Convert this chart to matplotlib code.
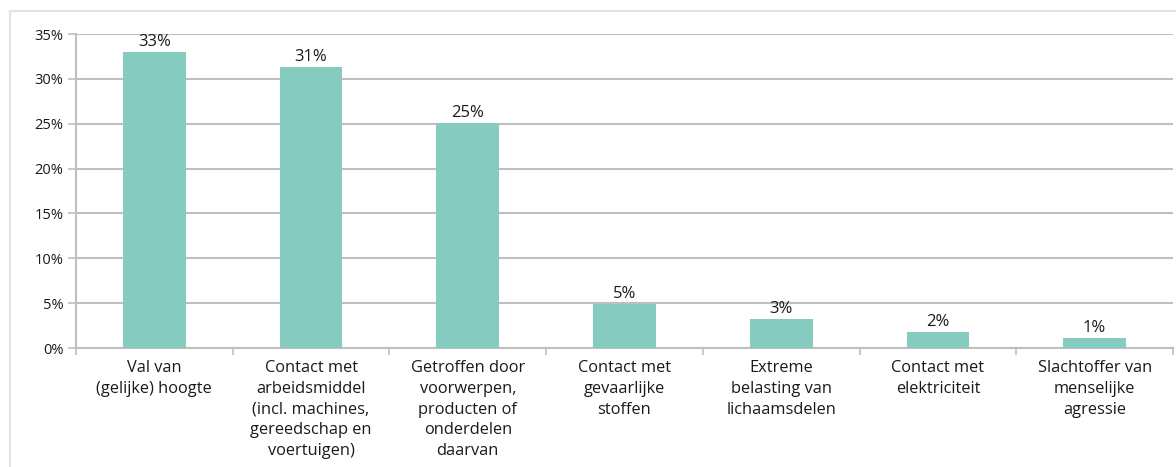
import matplotlib.pyplot as plt
import numpy as np
from matplotlib.lines import Line2D
from matplotlib.ticker import FuncFormatter

categories = [
    "Val van\n(gelijke) hoogte",
    "Contact met\narbeidsmiddel\n(incl. machines,\ngereedschap en\nvoertuigen)",
    "Getroffen door\nvoorwerpen,\nproducten of\nonderdelen\ndaarvan",
    "Contact met\ngevaarlijke\nstoffen",
    "Extreme\nbelasting van\nlichaamsdelen",
    "Contact met\nelektriciteit",
    "Slachtoffer van\nmenselijke\nagressie",
]
values = [33.0, 31.3, 25.1, 4.9, 3.2, 1.8, 1.1]
value_labels = ["33%", "31%", "25%", "5%", "3%", "2%", "1%"]
yticks = [0, 5, 10, 15, 20, 25, 30, 35]

bar_color = "#86CBC0"
grid_color = "#BFBFBF"
text = "#1A1A1A"
frame = "#E3E3E3"

plt.rcParams.update({
    "font.family": ["Open Sans", "DejaVu Sans"],
    "font.size": 10,
})

fig = plt.figure(figsize=(11.76, 4.67), dpi=100)
ax = fig.add_axes([76 / 1176, 1 - 348 / 467, (1173 - 76) / 1176, (348 - 34) / 467])

x = np.arange(len(categories))
ax.bar(x, values, width=0.4, color=bar_color, zorder=3)

for xi, v, lab in zip(x, values, value_labels):
    ax.annotate(lab, (xi, v), xytext=(0, 1.5), textcoords="offset points",
                ha="center", va="bottom", fontsize=12, color=text)

ax.set_xlim(-0.5, len(categories) - 0.5)
ax.set_ylim(0, 35)
ax.set_yticks(yticks)
ax.yaxis.set_major_formatter(FuncFormatter(lambda v, p: f"{v:.0f}%"))
ax.tick_params(axis="y", length=6, width=1.2, color=grid_color, labelcolor=text,
               labelsize=10.5, pad=3)

# tick marks at category boundaries, labels at centres
ax.set_xticks(np.arange(len(categories) + 1) - 0.5)
ax.set_xticklabels([])
ax.set_xticks(x, minor=True)
ax.set_xticklabels(categories, minor=True, fontsize=11.8, color=text, linespacing=1.38)
ax.tick_params(axis="x", which="major", length=5, width=1.2, color=grid_color)
ax.tick_params(axis="x", which="minor", length=0, pad=9)

ax.grid(axis="y", color=grid_color, linewidth=1.5)
ax.set_axisbelow(True)
for side in ["top", "right"]:
    ax.spines[side].set_visible(False)
for side in ["left", "bottom"]:
    ax.spines[side].set_color(grid_color)
    ax.spines[side].set_linewidth(1.5)

# light frame around the chart (cut off at right and bottom)
fig.add_artist(Line2D([10 / 1176, 10 / 1176], [0, 1 - 11 / 467],
                      transform=fig.transFigure, color=frame, linewidth=1.5))
fig.add_artist(Line2D([10 / 1176, 1], [1 - 11 / 467, 1 - 11 / 467],
                      transform=fig.transFigure, color=frame, linewidth=1.5))

fig.savefig("out.png", dpi=100)
